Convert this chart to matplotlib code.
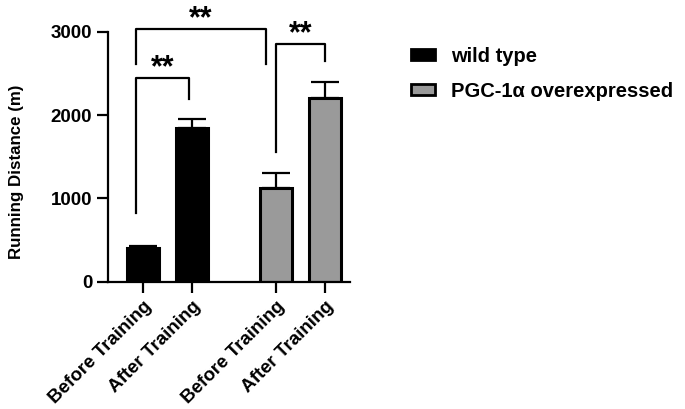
import matplotlib
matplotlib.use('Agg')
import matplotlib.pyplot as plt
from matplotlib.patches import Patch

plt.rcParams['font.family'] = ['Liberation Sans', 'DejaVu Sans']
plt.rcParams['font.weight'] = 'bold'

# data
labels = ['Before Training', 'After Training', 'Before Training', 'After Training']
positions = [0, 1, 2.7, 3.7]
means = [410, 1850, 1120, 2200]
errs = [15, 100, 190, 200]
colors = ['black', 'black', '#9a9a9a', '#9a9a9a']
groups = ['wild type', 'PGC-1\u03b1 overexpressed']

# brackets: (x left, x right, top, left leg end, right leg end, text)
brackets = [
    (-0.14, 0.94, 2440, 820, 2190, '**'),
    (-0.14, 2.49, 3030, 2610, 2610, '**'),
    (2.7, 3.7, 2850, 1560, 2650, '**'),
]

fig = plt.figure(figsize=(6.85, 4.09), dpi=100)
ax = fig.add_axes([0.158, 0.311, 0.353, 0.6115])

ax.bar(positions, means, width=0.65, color=colors, edgecolor='black', linewidth=2.2, zorder=2)
ax.errorbar(positions, means, yerr=[[0] * 4, errs], fmt='none', ecolor='black',
            elinewidth=1.6, capsize=10, capthick=1.6, zorder=1)

for xl, xr, top, yl, yr, txt in brackets:
    ax.plot([xl, xl, xr, xr], [yl, top, top, yr], color='black', lw=1.6, clip_on=False)
    ax.text((xl + xr) / 2, top + 120, txt, ha='center', va='center', fontsize=22,
            fontweight='bold', clip_on=False)

ax.set_xlim(-0.71, 4.21)
ax.set_ylim(0, 3000)
ax.set_yticks([0, 1000, 2000, 3000])
ax.set_xticks(positions)
ax.set_xticklabels(labels, rotation=45, ha='right', rotation_mode='anchor', fontsize=13.5)
ax.tick_params(axis='y', labelsize=13.5, width=1.6, length=8)
ax.tick_params(axis='x', width=1.6, length=8)
for lbl in ax.get_yticklabels():
    lbl.set_fontweight('bold')
for lbl in ax.get_xticklabels():
    lbl.set_fontweight('bold')
ax.spines['top'].set_visible(False)
ax.spines['right'].set_visible(False)
ax.spines['left'].set_linewidth(1.6)
ax.spines['bottom'].set_linewidth(1.6)
ax.set_ylabel('Running Distance (m)', fontsize=12.2, fontweight='bold')
ax.yaxis.set_label_coords(-0.347, 0.44)

handles = [Patch(facecolor='black', edgecolor='black', linewidth=2),
           Patch(facecolor='#9a9a9a', edgecolor='black', linewidth=2)]
fig.legend(handles, groups, loc='upper left', bbox_to_anchor=(0.573, 0.93), frameon=False,
           prop={'size': 14.5, 'weight': 'bold'}, handlelength=1.2, handleheight=0.5,
           handletextpad=0.8, labelspacing=0.8)

fig.savefig('out.png', dpi=100)
